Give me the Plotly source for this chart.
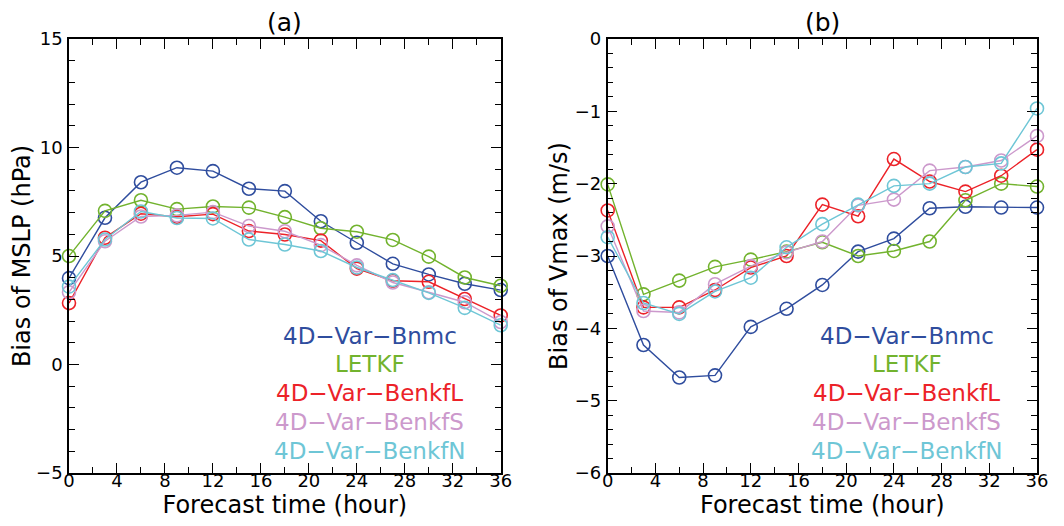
import plotly.graph_objects as go
from plotly.subplots import make_subplots

hours = [0, 3, 6, 9, 12, 15, 18, 21, 24, 27, 30, 33, 36]
names = ["4D−Var−Bnmc", "LETKF", "4D−Var−BenkfL", "4D−Var−BenkfS", "4D−Var−BenkfN"]
colors = ["#2f4d9e", "#72b32e", "#ec2228", "#cc99cc", "#6ec6d6"]

# (a) Bias of MSLP (hPa)
mslp_bnmc   = [3.98, 6.76, 8.40, 9.07, 8.91, 8.10, 7.99, 6.60, 5.61, 4.64, 4.15, 3.72, 3.43]
mslp_letkf  = [5.00, 7.08, 7.57, 7.16, 7.28, 7.23, 6.79, 6.28, 6.12, 5.74, 4.97, 4.01, 3.63]
mslp_benkfl = [2.83, 5.84, 6.95, 6.81, 6.93, 6.15, 5.99, 5.71, 4.42, 3.86, 3.81, 3.02, 2.26]
mslp_benkfs = [3.33, 5.68, 6.82, 6.87, 7.02, 6.38, 6.14, 5.50, 4.57, 3.78, 3.33, 2.87, 1.96]
mslp_benkfn = [3.59, 5.76, 7.05, 6.75, 6.73, 5.76, 5.53, 5.23, 4.47, 3.89, 3.30, 2.61, 1.81]

# (b) Bias of Vmax (m/s)
vmax_bnmc   = [-3.00, -4.23, -4.68, -4.65, -3.98, -3.73, -3.40, -2.94, -2.76, -2.34, -2.32, -2.33, -2.33]
vmax_letkf  = [-2.01, -3.53, -3.34, -3.15, -3.05, -2.94, -2.81, -3.00, -2.93, -2.80, -2.23, -2.00, -2.04]
vmax_benkfl = [-2.37, -3.71, -3.71, -3.47, -3.16, -3.00, -2.29, -2.45, -1.66, -1.97, -2.11, -1.89, -1.53]
vmax_benkfs = [-2.59, -3.76, -3.78, -3.39, -3.14, -2.95, -2.80, -2.30, -2.22, -1.82, -1.77, -1.68, -1.34]
vmax_benkfn = [-2.74, -3.65, -3.80, -3.49, -3.30, -2.88, -2.56, -2.29, -2.03, -2.00, -1.77, -1.72, -0.96]

mslp = [mslp_bnmc, mslp_letkf, mslp_benkfl, mslp_benkfs, mslp_benkfn]
vmax = [vmax_bnmc, vmax_letkf, vmax_benkfl, vmax_benkfs, vmax_benkfn]

FONT = "DejaVu Sans"

fig = make_subplots(rows=1, cols=2)

for col, data in ((1, mslp), (2, vmax)):
    for name, color, vals in zip(names, colors, data):
        fig.add_trace(go.Scatter(
            x=hours, y=vals, mode="lines+markers", name=name,
            line=dict(color=color, width=1.4),
            marker=dict(symbol="circle-open", size=13, color=color,
                        line=dict(width=1.6, color=color)),
            showlegend=False, cliponaxis=False), row=1, col=col)

axis_common = dict(
    showline=True, linecolor="black", linewidth=1.6, mirror="ticks",
    ticks="inside", ticklen=10, tickwidth=1.4, tickcolor="black",
    showgrid=False, zeroline=False, automargin=False,
    tickfont=dict(family=FONT, size=18, color="black"),
)

xa = dict(axis_common, range=[0, 36], tickvals=[0, 4, 8, 12, 16, 20, 24, 28, 32, 36],
          ticklabelstandoff=-9,
          minor=dict(ticks="inside", dtick=2, tick0=0, ticklen=6, tickwidth=1.4, tickcolor="black"),
          title=dict(text="Forecast time (hour)", font=dict(family=FONT, size=24, color="black"), standoff=0))
fig.update_xaxes(xa, row=1, col=1)
fig.update_xaxes(xa, row=1, col=2)
fig.update_xaxes(domain=[0, 0.446], row=1, col=1)
fig.update_xaxes(domain=[0.5565, 1.0], row=1, col=2)

fig.update_yaxes(axis_common, range=[-5, 15], tickvals=[-5, 0, 5, 10, 15],
                 ticklabelstandoff=1,
                 minor=dict(ticks="inside", dtick=1, tick0=0, ticklen=6, tickwidth=1.4, tickcolor="black"),
                 title=dict(text="Bias of MSLP (hPa)", font=dict(family=FONT, size=24, color="black"), standoff=0),
                 row=1, col=1)
fig.update_yaxes(axis_common, range=[-6, 0], tickvals=[-6, -5, -4, -3, -2, -1, 0],
                 ticklabelstandoff=1,
                 minor=dict(ticks="inside", dtick=0.2, tick0=0, ticklen=6, tickwidth=1.4, tickcolor="black"),
                 title=dict(text="Bias of Vmax (m/s)", font=dict(family=FONT, size=24, color="black"), standoff=0),
                 row=1, col=2)

ypos = [0.316, 0.251, 0.184, 0.118, 0.051]
for xr, yr in (("x domain", "y domain"), ("x2 domain", "y2 domain")):
    for name, color, yp in zip(names, colors, ypos):
        fig.add_annotation(text=name, xref=xr, yref=yr, x=0.697, y=yp,
                           xanchor="center", yanchor="middle", showarrow=False,
                           font=dict(family=FONT, size=23, color=color))

for xr, label in (("x domain", "(a)"), ("x2 domain", "(b)")):
    fig.add_annotation(text=label, xref=xr, yref="paper", x=0.5, y=1.0, yshift=0,
                       xanchor="center", yanchor="bottom", showarrow=False,
                       font=dict(family=FONT, size=25, color="black"))

# page body has an 8px margin, so offset the figure margins to land the plot areas correctly
fig.update_layout(
    width=1064, height=526,
    margin=dict(l=61, r=35, t=31, b=61, autoexpand=False),
    paper_bgcolor="white", plot_bgcolor="white",
    font=dict(family=FONT, color="black"),
)

fig.write_html("out.html")
